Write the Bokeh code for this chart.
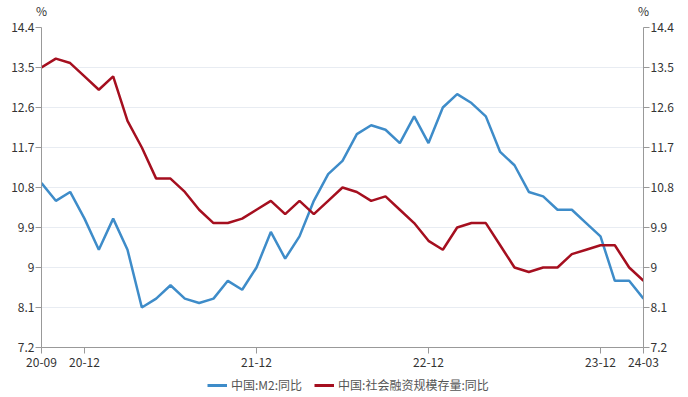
from bokeh.plotting import figure
from bokeh.layouts import column
from bokeh.models import (LinearAxis, Range1d, FixedTicker, NumeralTickFormatter,
                          Legend, LegendItem, Label, ColumnDataSource)
from bokeh.embed import file_html
from bokeh.resources import INLINE

months = ["20-09","20-10","20-11","20-12",
          "21-01","21-02","21-03","21-04","21-05","21-06","21-07","21-08","21-09","21-10","21-11","21-12",
          "22-01","22-02","22-03","22-04","22-05","22-06","22-07","22-08","22-09","22-10","22-11","22-12",
          "23-01","23-02","23-03","23-04","23-05","23-06","23-07","23-08","23-09","23-10","23-11","23-12",
          "24-01","24-02","24-03"]
m2 = [10.9, 10.5, 10.7, 10.1,
      9.4, 10.1, 9.4, 8.1, 8.3, 8.6, 8.3, 8.2, 8.3, 8.7, 8.5, 9.0,
      9.8, 9.2, 9.7, 10.5, 11.1, 11.4, 12.0, 12.2, 12.1, 11.8, 12.4, 11.8,
      12.6, 12.9, 12.7, 12.4, 11.6, 11.3, 10.7, 10.6, 10.3, 10.3, 10.0, 9.7,
      8.7, 8.7, 8.3]
tsf = [13.5, 13.7, 13.6, 13.3,
       13.0, 13.3, 12.3, 11.7, 11.0, 11.0, 10.7, 10.3, 10.0, 10.0, 10.1, 10.3,
       10.5, 10.2, 10.5, 10.2, 10.5, 10.8, 10.7, 10.5, 10.6, 10.3, 10.0, 9.6,
       9.4, 9.9, 10.0, 10.0, 9.5, 9.0, 8.9, 9.0, 9.0, 9.3, 9.4, 9.5,
       9.5, 9.0, 8.7]
x_tick_labels = ["20-09", "20-12", "21-12", "22-12", "23-12", "24-03"]
y_ticks = [7.2, 8.1, 9.0, 9.9, 10.8, 11.7, 12.6, 13.5, 14.4]
unit = "%"
name_m2 = "中国:M2:同比"
name_tsf = "中国:社会融资规模存量:同比"

FONT = "Noto Sans CJK SC"
BLUE = "#3E8CC9"
RED = "#A50F1F"
AXIS = "#999999"
TXT = "#333333"

W = 688
TOP_H = 19
BOT_H = 24
MAIN_H = 397 - TOP_H - BOT_H
BORDER_L, BORDER_R = 41, 45

idx = list(range(len(months)))
src = ColumnDataSource(dict(x=idx, m2=m2, tsf=tsf))
x_ticks = [months.index(m) for m in x_tick_labels]

# ---------- main chart ----------
p = figure(width=W, height=MAIN_H, output_backend="svg", toolbar_location=None,
           x_range=Range1d(0, len(months) - 1), y_range=Range1d(y_ticks[0], y_ticks[-1]),
           min_border_left=BORDER_L, min_border_right=BORDER_R, min_border_top=8,
           min_border_bottom=26)
p.outline_line_color = None
p.border_fill_color = "white"

r1 = p.line("x", "m2", source=src, line_color=BLUE, line_width=2.5)
r2 = p.line("x", "tsf", source=src, line_color=RED, line_width=2.5)

def style_axis(ax):
    ax.minor_tick_line_color = None
    ax.major_tick_in = 0
    ax.major_tick_out = 6
    ax.axis_line_color = AXIS
    ax.major_tick_line_color = AXIS
    ax.major_label_text_font = FONT
    ax.major_label_text_font_size = "12px"
    ax.major_label_text_color = TXT

xa = p.xaxis[0]
xa.ticker = FixedTicker(ticks=x_ticks)
xa.major_label_overrides = {t: l for t, l in zip(x_ticks, x_tick_labels)}
style_axis(xa)
xa.major_label_standoff = 4

ya = p.yaxis[0]
ya.ticker = FixedTicker(ticks=y_ticks)
ya.formatter = NumeralTickFormatter(format="0.[0]")
style_axis(ya)
ya.major_label_standoff = 1

ra = LinearAxis(ticker=FixedTicker(ticks=y_ticks), formatter=NumeralTickFormatter(format="0.[0]"))
style_axis(ra)
ra.major_label_standoff = 1
p.add_layout(ra, "right")

p.xgrid.grid_line_color = None
p.ygrid.ticker = FixedTicker(ticks=y_ticks)
p.ygrid.grid_line_color = "#E8ECF2"
p.ygrid.grid_line_width = 1

# ---------- top strip with unit labels ----------
top = figure(width=W, height=TOP_H, output_backend="svg", toolbar_location=None,
             x_range=Range1d(0, W), y_range=Range1d(0, TOP_H),
             x_axis_type=None, y_axis_type=None, frame_align=False,
             min_border_left=0, min_border_right=0, min_border_top=0, min_border_bottom=0)
top.outline_line_color = None
top.grid.grid_line_color = None
for sx in (BORDER_L, W - BORDER_R):
    top.add_layout(Label(x=sx, y=TOP_H - 10, x_units="screen", y_units="screen", text=unit,
                         text_font=FONT, text_font_size="12px", text_color=TXT,
                         text_align="center", text_baseline="middle"))

# ---------- bottom strip with legend ----------
bot = figure(width=W, height=BOT_H, output_backend="svg", toolbar_location=None,
             x_range=Range1d(0, len(months) - 1), y_range=Range1d(1000, 1001),
             x_axis_type=None, y_axis_type=None, frame_align=False,
             min_border_left=0, min_border_right=0, min_border_top=0, min_border_bottom=0)
bot.outline_line_color = None
bot.grid.grid_line_color = None
lr1 = bot.line("x", "m2", source=src, line_color=BLUE, line_width=3)
lr2 = bot.line("x", "tsf", source=src, line_color=RED, line_width=3)
legend = Legend(items=[LegendItem(label=name_m2, renderers=[lr1]),
                       LegendItem(label=name_tsf, renderers=[lr2])],
                orientation="horizontal", location=(207, 4),
                label_text_font=FONT, label_text_font_size="12px", label_text_color="#555555",
                glyph_width=20, glyph_height=14, label_standoff=4, spacing=12,
                border_line_color=None, background_fill_alpha=0, padding=2, margin=0)
bot.add_layout(legend, "center")

layout = column(top, p, bot, spacing=0)
open("out.html", "w").write(file_html(layout, INLINE))
